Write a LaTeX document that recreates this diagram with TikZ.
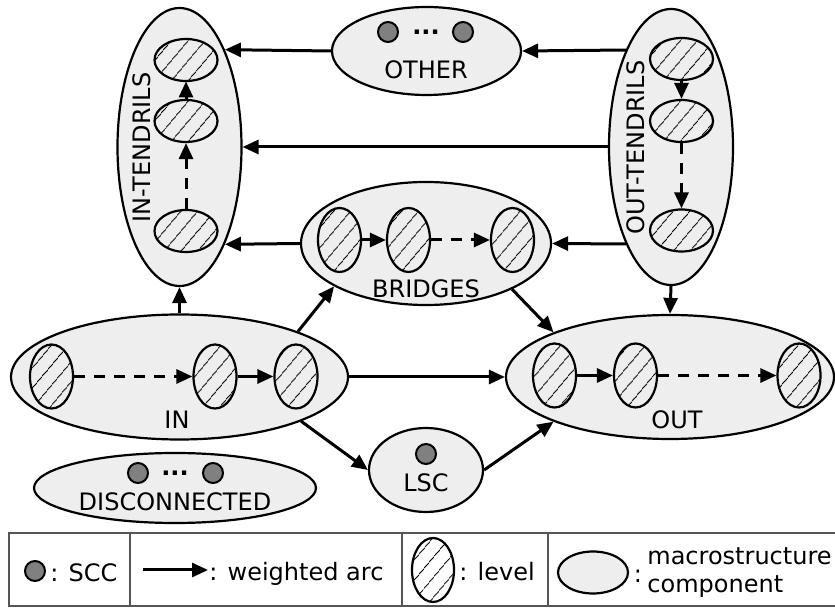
\documentclass[tikz,border=0pt]{standalone}
\usepackage{fontspec}
\setmainfont{DejaVu Sans}
\usetikzlibrary{arrows.meta,patterns.meta,shapes.geometric}
\definecolor{compgray}{HTML}{EEEEEE}
\definecolor{sccgray}{HTML}{808080}
\definecolor{boxgray}{HTML}{555555}
\tikzset{
	comp/.style={ellipse, draw, line width=1.1pt, fill=compgray, inner sep=0pt},
	lvl/.style={ellipse, draw, line width=1.1pt, inner sep=0pt, pattern={Lines[angle=50,distance=6.5pt,line width=0.45pt]}},
	lvlv/.style={lvl, minimum width=21.5pt, minimum height=32pt},
	lvlh/.style={lvl, minimum width=31.5pt, minimum height=21pt},
	scc/.style={circle, draw, line width=1pt, fill=sccgray, inner sep=0pt, minimum size=10pt},
	lbl/.style={inner sep=0pt},
	warc/.style={line width=1.5pt, -{Triangle[length=8pt,width=7pt]}},
	dwarc/.style={warc, dash pattern=on 5.5pt off 4.5pt},
}

\begin{document}
\begin{tikzpicture}[x=0.5pt, y=-0.5pt, font=\fontsize{12}{13}\selectfont]
			%%%%% START %%%%%
			\useasboundingbox (0,0) rectangle (835,608);
			
			% macrostructure components
			\node[comp, minimum width=62pt, minimum height=139pt] (intendrils) at (179.5,147) {};
			\node[comp, minimum width=62pt, minimum height=138pt] (outtendrils) at (671,147) {};
			\node[comp, minimum width=94.5pt, minimum height=44pt] (other) at (426.5,51) {};
			\node[comp, minimum width=125pt, minimum height=61.5pt] (bridges) at (426,243.5) {};
			\node[comp, minimum width=168.5pt, minimum height=62.5pt] (in) at (179.5,377) {};
			\node[comp, minimum width=164pt, minimum height=62pt] (out) at (670,377) {};
			\node[comp, minimum width=57pt, minimum height=42pt] (lsc) at (426,470) {};
			\node[comp, minimum width=141pt, minimum height=35pt] (disc) at (175,488) {};
			
			% labels
			\node[lbl, rotate=90] (intendrilslbl) at (142,147.5) {IN-TENDRILS};
			\node[lbl, rotate=90] (outtendrilslbl) at (636,147.5) {OUT-TENDRILS};
			\node[lbl] (otherlbl) at (426,70) {OTHER};
			\node[lbl] (bridgeslbl) at (426,288.5) {BRIDGES};
			\node[lbl] (inlbl) at (177,419.5) {IN};
			\node[lbl] (outlbl) at (677,420) {OUT};
			\node[lbl] (lsclbl) at (426,483) {LSC};
			\node[lbl] (disclbl) at (175,501.5) {DISCONNECTED};
			
			% SCCs
			\node[scc] (otherA) at (388,32) {};
			\node[lbl, anchor=base] (otherdots) at (426,34.5) {\textbf{...}};
			\node[scc] (otherB) at (463,32) {};
			\node[scc] (discA) at (138,473) {};
			\node[lbl, anchor=base] (discdots) at (175,475.5) {\textbf{...}};
			\node[scc] (discB) at (213,473) {};
			\node[scc] (lscA) at (426,454) {};
			
			% levels
			\node[lvlh] (it1) at (186,60) {};
			\node[lvlh] (it2) at (186,121) {};
			\node[lvlh] (it3) at (186,231) {};
			\node[lvlh] (ot1) at (681.5,59) {};
			\node[lvlh] (ot2) at (681.5,121) {};
			\node[lvlh] (ot3) at (681.5,230.5) {};
			\node[lvlv] (br1) at (339.5,240) {};
			\node[lvlv] (br2) at (408.5,240) {};
			\node[lvlv] (br3) at (512.5,240) {};
			\node[lvlv] (in1) at (51.5,376.5) {};
			\node[lvlv] (in2) at (215,376.5) {};
			\node[lvlv] (in3) at (296,376.5) {};
			\node[lvlv] (out1) at (554.5,375.5) {};
			\node[lvlv] (out2) at (635.5,375.5) {};
			\node[lvlv] (out3) at (799,375.5) {};
			
			\draw[dwarc] (it3) -- (it2);
			\draw[warc] (it2) -- (it1);
			\draw[warc] (ot1) -- (ot2);
			\draw[dwarc] (ot2) -- (ot3);
			\draw[warc] (br1) -- (br2);
			\draw[dwarc] (br2) -- (br3);
			\draw[dwarc] (in1) -- (in2);
			\draw[warc] (in2) -- (in3);
			\draw[warc] (out1) -- (out2);
			\draw[dwarc] (out2) -- (out3);
			
			% weighted arcs between components
			\draw[warc] (other.west) -- (intendrils.65);
			\draw[warc] (outtendrils.115) -- (other.east);
			\draw[warc] (outtendrils.west) -- (intendrils.east);
			\draw[warc] (outtendrils.245) -- (bridges.east);
			\draw[warc] (bridges.west) -- (intendrils.295);
			\draw[warc] (in.north) -- (intendrils.south);
			\draw[warc] (in.21) -- (bridges.205);
			\draw[warc] (in.east) -- (out.west);
			\draw[warc] (in.340) -- (lsc.west);
			\draw[warc] (bridges.332) -- (out.159);
			\draw[warc] (lsc.east) -- (out.201);
			\draw[warc] (outtendrils.south) -- (out.north);
			
			% legend
			\draw[boxgray, line width=1pt] (9,533) rectangle (838,606);
			\draw[boxgray, line width=0.8pt] (130,533) -- (130,606);
			\draw[boxgray, line width=0.8pt] (402,533) -- (402,606);
			\draw[boxgray, line width=0.8pt] (548,533) -- (548,606);
			
			\node[scc] (lgscc) at (35,571) {};
			\node[lbl, anchor=base west] (lgscclbl) at (50,581.5) {: SCC};
			\coordinate (lgarcA) at (143,570);
			\coordinate (lgarcB) at (208,570);
			\draw[warc] (lgarcA) -- (lgarcB);
			\node[lbl, anchor=base west] (lgarclbl) at (209,581) {: weighted arc};
			\node[lvl, minimum width=21pt, minimum height=32pt] (lglvl) at (433,570) {};
			\node[lbl, anchor=base west] (lglvllbl) at (459,581) {: level};
			\node[comp, minimum width=35pt, minimum height=21pt] (lgcomp) at (593,572.5) {};
			\node[lbl, anchor=base] (lgcolon) at (638,582) {:};
			\node[lbl, anchor=base west] (lgcomplblA) at (647,565) {macrostructure};
			\node[lbl, anchor=base west] (lgcomplblB) at (647,592) {component};
			
			%%%%% END %%%%%
\end{tikzpicture}
\end{document}
